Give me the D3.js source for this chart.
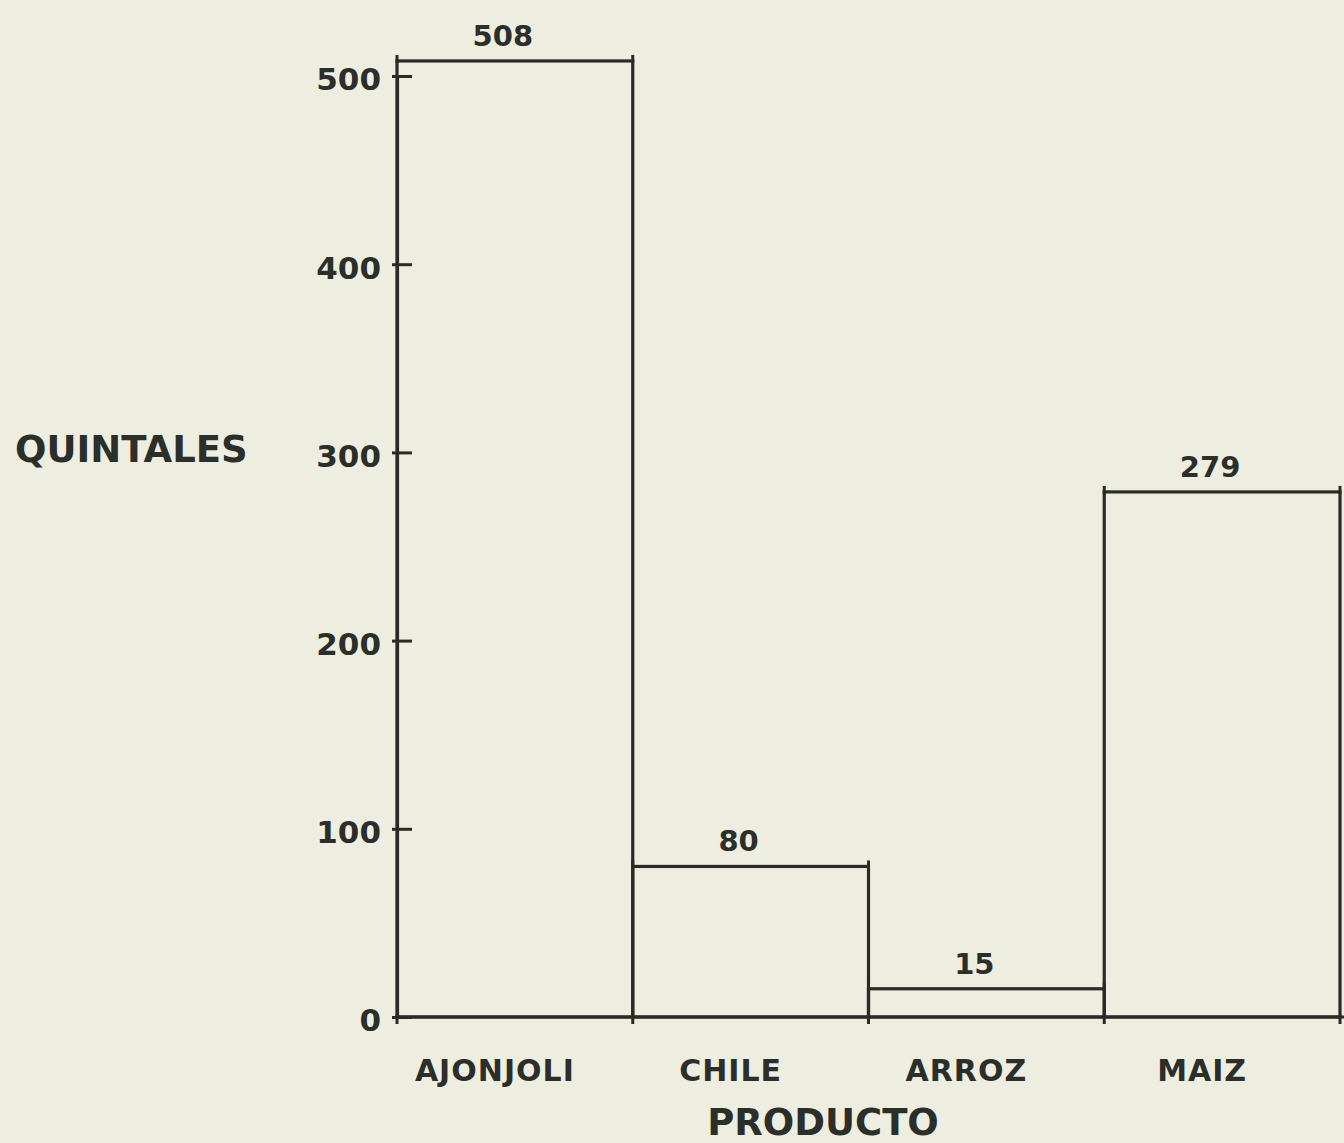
<!DOCTYPE html>
<html><head><meta charset="utf-8">
<script src="https://cdn.jsdelivr.net/npm/d3@7"></script>
<style>
html,body{margin:0;padding:0;background:#eeeee0;}
svg{display:block;}
text{font-family:"DejaVu Sans",sans-serif;font-weight:bold;fill:#2c2e2a;}
</style></head>
<body>
<svg id="chart" width="1344" height="1143"></svg>
<script>
const categories = ["AJONJOLI", "CHILE", "ARROZ", "MAIZ"];
const values = [508, 80, 15, 279];
const yTicks = [0, 100, 200, 300, 400, 500];
const yTitle = "QUINTALES";
const xTitle = "PRODUCTO";

const ink = "#2a2b27";
const svg = d3.select("#chart");
svg.append("rect").attr("width",1344).attr("height",1143).attr("fill","#eeeee0");

const x = d3.scaleBand().domain(categories).range([397, 1340]).padding(0);
const y = d3.scaleLinear().domain([0, 500]).range([1017, 76]);

// bars (outline only)
svg.append("g").selectAll("rect").data(values).join("rect")
  .attr("x", (d,i) => x(categories[i]))
  .attr("y", d => y(d))
  .attr("width", x.bandwidth())
  .attr("height", d => y(0) - y(d))
  .attr("fill", "none")
  .attr("stroke", ink)
  .attr("stroke-width", 3.2);

// small crossing ticks at bar top corners
const corners = [];
values.forEach((d,i) => {
  corners.push({x: x(categories[i]), v: d});
  corners.push({x: x(categories[i]) + x.bandwidth(), v: d});
});
svg.append("g").selectAll("line").data(corners).join("line")
  .attr("x1", d => d.x).attr("x2", d => d.x)
  .attr("y1", d => y(d.v) - 6).attr("y2", d => y(d.v) + 2)
  .attr("stroke", ink).attr("stroke-width", 3);

// baseline
svg.append("line").attr("x1", 397).attr("x2", 1344)
  .attr("y1", y(0)).attr("y2", y(0))
  .attr("stroke", ink).attr("stroke-width", 3.2);
// baseline crossing ticks at band edges
const edges = categories.map(c => x(c)).concat([x(categories[categories.length-1]) + x.bandwidth()]);
svg.append("g").selectAll("line").data(edges).join("line")
  .attr("x1", d => d).attr("x2", d => d)
  .attr("y1", y(0) - 2).attr("y2", y(0) + 7)
  .attr("stroke", ink).attr("stroke-width", 3);

// y axis
const yAxis = svg.append("g").attr("transform", "translate(397,0)")
  .call(d3.axisLeft(y).tickValues(yTicks).tickSizeInner(-15).tickSizeOuter(0).tickPadding(16));
yAxis.select(".domain").attr("stroke", ink).attr("stroke-width", 3.2);
yAxis.selectAll(".tick line").attr("x1", -5).attr("x2", 15).attr("stroke", ink).attr("stroke-width", 3);
yAxis.selectAll(".tick text").attr("font-size", 31).attr("font-family", "DejaVu Sans")
  .attr("font-weight", "bold").attr("fill", "#2c2e2a").attr("dy", "0.45em");

// x axis labels
const xAxis = svg.append("g").attr("transform", `translate(0,${y(0)})`)
  .call(d3.axisBottom(x).tickSize(0).tickPadding(43));
xAxis.select(".domain").remove();
xAxis.selectAll(".tick text").attr("font-size", 30).attr("font-family", "DejaVu Sans")
  .attr("font-weight", "bold").attr("fill", "#2c2e2a").attr("dx", -20)
  .attr("letter-spacing", 1);

// value labels
svg.append("g").selectAll("text").data(values).join("text")
  .attr("x", (d,i) => x(categories[i]) + x.bandwidth()/2 - 12)
  .attr("y", d => y(d) - 15)
  .attr("text-anchor", "middle")
  .attr("font-size", 29)
  .text(d => d);

// titles
svg.append("text").attr("x", 15).attr("y", 462).attr("font-size", 37).text(yTitle);
svg.append("text").attr("x", 823).attr("y", 1135).attr("text-anchor", "middle").attr("font-size", 37).text(xTitle);
</script>
</body></html>
